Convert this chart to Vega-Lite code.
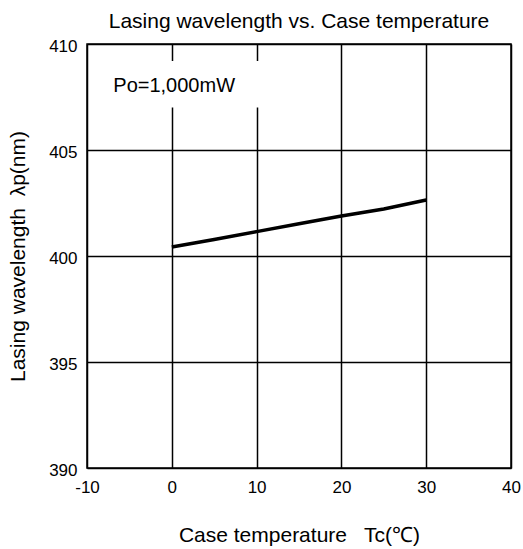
{
  "$schema": "https://vega.github.io/schema/vega-lite/v6.json",
  "width": 424,
  "height": 424,
  "autosize": {"type": "none"},
  "padding": {"left": 87, "top": 44, "right": 12, "bottom": 81},
  "background": "white",
  "config": {
    "font": "Liberation Sans",
    "view": {"stroke": "black", "strokeWidth": 1.5},
    "axis": {
      "domain": false,
      "ticks": false,
      "grid": true,
      "gridColor": "black",
      "gridOpacity": 1,
      "gridWidth": 1.5,
      "labelColor": "black",
      "labelFont": "Liberation Sans",
      "labelFontSize": 17,
      "titleColor": "black",
      "titleFont": "Liberation Sans",
      "titleFontSize": 21,
      "titleFontWeight": "normal"
    }
  },
  "title": {
    "text": "Lasing wavelength vs. Case temperature",
    "font": "Liberation Sans",
    "fontSize": 21,
    "fontWeight": "normal",
    "color": "black",
    "anchor": "middle",
    "offset": 5
  },
  "datasets": {
    "curve": [
      {"tc": 0, "wl": 400.42},
      {"tc": 5, "wl": 400.78},
      {"tc": 10, "wl": 401.15},
      {"tc": 15, "wl": 401.52},
      {"tc": 20, "wl": 401.89},
      {"tc": 25, "wl": 402.22},
      {"tc": 30, "wl": 402.64}
    ],
    "box": [{"x1": -8.5, "x2": 14, "y1": 407.0, "y2": 409.2}],
    "note": [{"x": -6.9, "y": 408.0, "label": "Po=1,000mW"}]
  },
  "layer": [
    {
      "data": {"name": "box"},
      "mark": {"type": "rect", "fill": "white", "stroke": null},
      "encoding": {
        "x": {
          "field": "x1", "type": "quantitative",
          "scale": {"domain": [-10, 40], "nice": false, "zero": false},
          "axis": {
            "values": [-10, 0, 10, 20, 30, 40],
            "labelExpr": "replace(datum.label, '−', '-')",
            "title": "Case temperature\u00a0\u00a0 Tc(℃)",
            "labelPadding": 11,
            "titlePadding": 29,
            "labelFlush": false
          }
        },
        "x2": {"field": "x2"},
        "y": {
          "field": "y1", "type": "quantitative",
          "scale": {"domain": [390, 410], "nice": false, "zero": false},
          "axis": {
            "values": [390, 395, 400, 405, 410],
            "title": "Lasing wavelength\u00a0 λp(nm)",
            "labelPadding": 10,
            "labelOffset": 2,
            "titlePadding": 20
          }
        },
        "y2": {"field": "y2"}
      }
    },
    {
      "data": {"name": "curve"},
      "mark": {"type": "line", "color": "black", "strokeWidth": 3.5},
      "encoding": {
        "x": {"field": "tc", "type": "quantitative"},
        "y": {"field": "wl", "type": "quantitative"}
      }
    },
    {
      "data": {"name": "note"},
      "mark": {"type": "text", "align": "left", "baseline": "middle", "fontSize": 20, "font": "Liberation Sans", "color": "black"},
      "encoding": {
        "x": {"field": "x", "type": "quantitative"},
        "y": {"field": "y", "type": "quantitative"},
        "text": {"field": "label"}
      }
    }
  ]
}
